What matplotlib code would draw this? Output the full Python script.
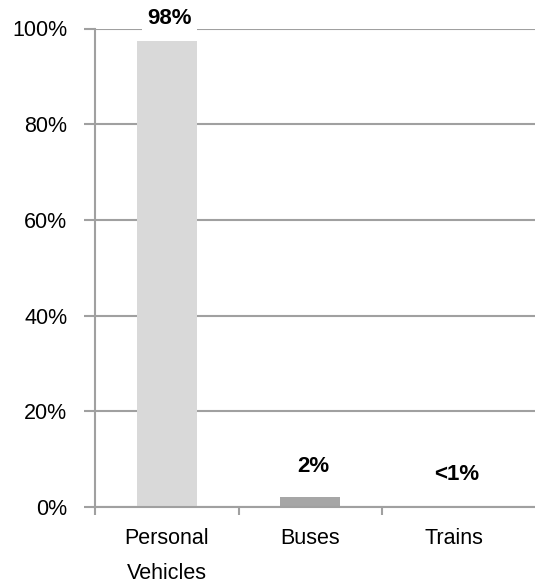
import matplotlib
matplotlib.use("Agg")
import matplotlib.pyplot as plt
from matplotlib.ticker import FixedLocator, PercentFormatter

plt.rcParams['font.family'] = ['Liberation Sans', 'DejaVu Sans']

categories = ["Personal\nVehicles", "Buses", "Trains"]
shares = [97.4, 2.1, 0.3]
bar_labels = ["98%", "2%", "<1%"]
bar_colors = ["#d9d9d9", "#a6a6a6", "#a6a6a6"]
yticks = [0, 20, 40, 60, 80, 100]

grid_col = "#a0a0a0"

fig = plt.figure(figsize=(5.35, 5.86), dpi=100)
ax = fig.add_axes([95 / 535, 1 - 507 / 586, 1 - 95 / 535, (507 - 28.5) / 586])

x = list(range(len(categories)))
ax.bar(x, shares, width=0.42, color=bar_colors, zorder=2)

ax.set_ylim(0, 100)
ax.set_xlim(-0.5, 2.566)
ax.set_yticks(yticks)
ax.yaxis.set_major_formatter(PercentFormatter(decimals=0))
ax.yaxis.grid(True, color=grid_col, lw=1.5, zorder=1)
ax.set_axisbelow(True)

ax.set_xticks(x)
ax.set_xticklabels(categories, fontsize=15.5, linespacing=1.9, va="top")
ax.tick_params(axis="x", which="major", length=0, pad=15)
ax.xaxis.set_minor_locator(FixedLocator([-0.5, 0.5, 1.5]))
ax.tick_params(axis="x", which="minor", length=6, width=1.5, color=grid_col)
ax.tick_params(axis="y", length=8, width=1.5, color=grid_col, labelsize=15.5, pad=12)

for side in ["top", "right"]:
    ax.spines[side].set_visible(False)
for side in ["left", "bottom"]:
    ax.spines[side].set_color(grid_col)
    ax.spines[side].set_linewidth(1.5)

# value labels
label_y = [102.0, 8.4, 6.7]
for xi, yi, txt in zip(x, label_y, bar_labels):
    ax.text(xi + 0.02, yi, txt, ha="center", va="center", fontsize=16, fontweight="bold",
            zorder=3, bbox=dict(boxstyle="square,pad=0.25", fc="white", ec="none"), clip_on=False)

fig.savefig("out.png", dpi=100)
